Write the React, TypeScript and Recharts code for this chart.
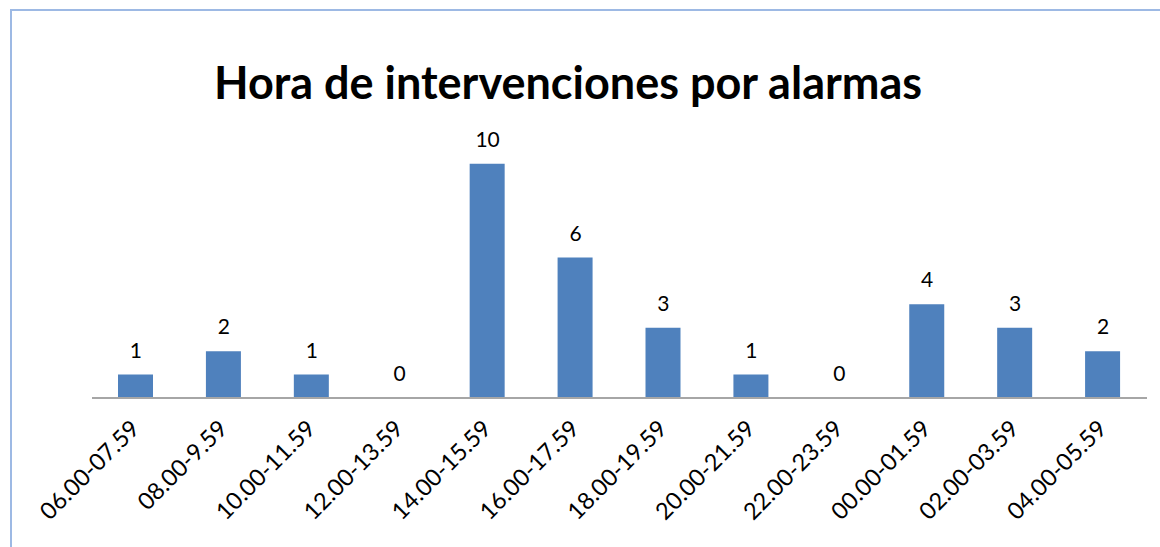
import { ComposedChart, Bar, Line, XAxis, YAxis, LabelList } from "recharts"

const franjas = [
  "06.00-07.59",
  "08.00-9.59",
  "10.00-11.59",
  "12.00-13.59",
  "14.00-15.59",
  "16.00-17.59",
  "18.00-19.59",
  "20.00-21.59",
  "22.00-23.59",
  "00.00-01.59",
  "02.00-03.59",
  "04.00-05.59",
]
const intervenciones = [1, 2, 1, 0, 10, 6, 3, 1, 0, 4, 3, 2]

const data = franjas.map((franja, i) => ({ franja, valor: intervenciones[i] }))

const FONT = "Lato, 'Open Sans', sans-serif"

function RotatedTick(props: any) {
  const { x, y, payload } = props
  const tx = x + 5
  const ty = y + 24
  return (
    <text
      x={tx}
      y={ty}
      textAnchor="end"
      fontSize={23.5}
      fontFamily={FONT}
      fill="#000"
      transform={`rotate(-45 ${tx} ${ty})`}
    >
      {payload.value}
    </text>
  )
}

export default function App() {
  return (
    <div style={{ position: "absolute", left: 0, top: 0, width: 1160, height: 547, background: "#fff", overflow: "hidden" }}>
      <div
        style={{
          position: "absolute",
          left: 10,
          top: 9,
          width: 1170,
          height: 560,
          border: "2px solid #9DB9E4",
          boxSizing: "border-box",
        }}
      />
      <div
        style={{
          position: "absolute",
          left: 0,
          width: 1136,
          top: 56,
          textAlign: "center",
          fontFamily: FONT,
          fontWeight: 700,
          fontSize: 45,
          lineHeight: "52px",
          color: "#000",
        }}
      >
        Hora de intervenciones por alarmas
      </div>
      <div style={{ position: "absolute", left: 0, top: 0 }}>
        <ComposedChart
          width={1160}
          height={547}
          data={data}
          margin={{ top: 117, right: 13, bottom: 0, left: 92 }}
          barSize={35}
        >
          <XAxis
            dataKey="franja"
            height={149}
            interval={0}
            tickLine={false}
            axisLine={{ stroke: "#A6A6A6", strokeWidth: 2 }}
            tick={<RotatedTick />}
          />
          <YAxis hide domain={[0, 12]} />
          <Bar dataKey="valor" fill="#4F81BD" isAnimationActive={false} />
          {/* invisible line only carries the data labels, so zeros get one too */}
          <Line
            dataKey="valor"
            stroke="none"
            dot={false}
            activeDot={false}
            isAnimationActive={false}
          >
            <LabelList
              dataKey="valor"
              position="top"
              offset={17}
              fontSize={21}
              fontFamily={FONT}
              fill="#000"
              formatter={(v: any) => String(v)}
            />
          </Line>
        </ComposedChart>
      </div>
    </div>
  )
}
